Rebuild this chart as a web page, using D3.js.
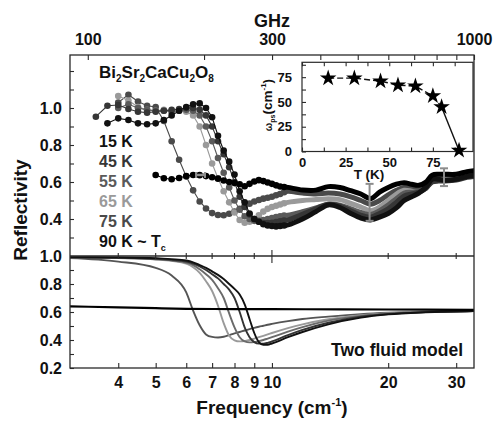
<!DOCTYPE html>
<html><head><meta charset="utf-8">
<script src="https://cdn.jsdelivr.net/npm/d3@7"></script>
<style>
body{margin:0;background:#fff;}
svg text{font-family:"Liberation Sans",Arial,sans-serif;font-weight:bold;}
</style></head><body>
<svg id="c" width="493" height="421"></svg>
<script>
// ---------- data ----------
const freqLow = [3.5,3.75,4,4.25,4.5,4.75,5,5.25,5.5,5.75,6,6.25,6.5,6.75,7,7.25,7.5,7.75,8,8.25,8.5,8.75,9,9.25,9.5,9.75,10,10.25,10.5,10.75];
const R15low = [null,.917,.944,.935,.917,.912,.917,.935,.96,.985,1.005,1.02,1.025,1.0,.95,.85,.77,.71,.64,.55,.49,.43,.40,.385,.372,.365,.362,.36,.362,.365];
const R45low = [.953,1.012,1.016,.995,.98,.975,.98,.985,.99,.995,1.0,1.0,.99,.96,.90,.82,.75,.68,.60,.52,.465,.425,.40,.385,.378,.378,.38,.384,.388,.392];
const R55low = [null,null,1.0,1.02,1.0,.99,.985,.985,.98,.985,.99,.985,.96,.90,.82,.73,.65,.57,.50,.45,.415,.40,.39,.39,.395,.40,.405,.41,.415,.418];
const R65low = [null,null,1.065,1.04,1.005,.99,.985,.99,.985,.985,.98,.96,.90,.80,.70,.62,.55,.49,.435,.395,.38,.385,.40,.42,.44,.455,.465,.472,.478,.485];
const R75low = [null,null,1.03,1.072,1.035,1.012,1.005,.93,.82,.72,.63,.555,.495,.457,.432,.422,.42,.428,.44,.455,.47,.483,.495,.503,.51,.515,.52,.528,.535,.545];
const R90low = [null,null,null,null,null,null,.638,.62,.615,.622,.632,.638,.637,.632,.626,.618,.608,.60,.594,.588,.577,.59,.603,.61,.605,.597,.59,.582,.576,.573];

const freqHigh = [11,12,13,14,15,16,17,18,19,20,21,22,23,24,25,26,27,28,30,32,33.36];
const R90high = [.571,.557,.556,.575,.57,.553,.535,.51,.545,.57,.588,.596,.588,.582,.598,.637,.642,.642,.642,.656,.661];
const R75high = [.55,.54,.535,.54,.535,.52,.50,.48,.50,.53,.555,.57,.565,.56,.58,.618,.623,.623,.628,.638,.643];
const R65high = [.49,.50,.505,.51,.505,.485,.465,.445,.465,.50,.535,.555,.55,.545,.565,.608,.618,.613,.618,.633,.638];
const R55high = [.42,.44,.46,.48,.475,.455,.435,.425,.445,.475,.51,.54,.545,.55,.565,.605,.61,.61,.615,.63,.635];
const R45high = [.395,.425,.455,.48,.47,.445,.42,.41,.43,.455,.49,.525,.535,.545,.565,.60,.605,.605,.61,.625,.63];
const R15high = [.368,.40,.44,.476,.462,.43,.405,.395,.41,.43,.46,.50,.52,.54,.57,.615,.615,.61,.615,.63,.635];

const freqModel = [3,4,5,5.5,6,6.25,6.5,6.75,7,7.25,7.5,7.75,8,8.25,8.5,8.75,9,9.25,9.5,9.75,10,11,12,14,17,20,25,33.36];
const M75 = [.985,.96,.915,.86,.74,.61,.505,.44,.422,.418,.423,.435,.447,.457,.468,.478,.487,.495,.502,.509,.515,.535,.55,.567,.585,.595,.603,.607];
const M65 = [.99,.985,.975,.965,.945,.92,.88,.82,.75,.645,.52,.43,.398,.39,.392,.40,.41,.42,.43,.44,.45,.485,.512,.548,.577,.591,.601,.607];
const M55 = [.99,.986,.977,.968,.952,.935,.905,.87,.83,.77,.70,.59,.49,.42,.39,.383,.385,.392,.40,.41,.42,.46,.492,.538,.572,.589,.60,.607];
const M45 = [.99,.987,.98,.972,.96,.945,.925,.90,.87,.84,.80,.76,.70,.60,.49,.42,.385,.374,.374,.38,.39,.435,.472,.523,.566,.586,.599,.607];
const M15 = [.992,.99,.985,.978,.968,.955,.935,.915,.89,.865,.835,.80,.765,.725,.655,.55,.45,.385,.366,.366,.375,.42,.457,.512,.56,.583,.598,.607];
const freqModel90 = [3,4,5,6,8,10,15,20,33.36];
const M90 = [.64,.633,.627,.623,.621,.62,.619,.618,.615];

const insetT = [15,30,45,55,65,75,80,90];
const insetW = [74,74,71,67,66,56,45,1];

const seriesNames = ["15 K","45 K","55 K","65 K","75 K","90 K ~ T"];
const bottomTicks = [4,5,6,7,8,9,10,20,30];
const ghzTicks = [100,200,300,400,500,600,700,800,900,1000];
const ghzLabels = [100,300,1000];
const upperTicks = [0.3,0.4,0.5,0.6,0.7,0.8,0.9,1.0,1.1,1.2];
const upperLabels = [0.4,0.6,0.8,1.0];
const lowerTicks = [0.2,0.3,0.4,0.5,0.6,0.7,0.8,0.9,1.0];
const lowerLabels = [0.2,0.4,0.6,0.8,1.0];
const insetXTicks = [0,12.5,25,37.5,50,62.5,75,87.5];
const insetXLabels = [0,25,50,75];
const insetYTicks = [0,12.5,25,37.5,50,62.5,75,87.5];
const insetYLabels = [0,25,50,75];

// ---------- layout ----------
const svg = d3.select("#c");
const L=70, Rr=474, T=55, M=256, B=368;
const x = d3.scaleLog().domain([3.0,33.36]).range([L,Rr]);
const xG = d3.scaleLog().domain([3.0*29.9792458,1000]).range([L,Rr]);
const yU = d3.scaleLinear().domain([0.2,1.2865]).range([M,T]);
const yL = d3.scaleLinear().domain([0.2,1.0]).range([B,M]);
const frameC = "#2a2a2a";
const colors = {c15:"#111",c45:"#363636",c55:"#5a5a5a",c65:"#9a9a9a",c75:"#4a4a4a",c90:"#000"};

const defs = svg.append("defs");
defs.append("clipPath").attr("id","cu").append("rect").attr("x",L).attr("y",T).attr("width",Rr-L).attr("height",M-T);
defs.append("clipPath").attr("id","cl").append("rect").attr("x",L).attr("y",M).attr("width",Rr-L).attr("height",B-M);

function styleAxis(g,size){
  g.select(".domain").remove();
  g.selectAll(".tick line").attr("stroke",frameC).attr("stroke-width",1.1);
  g.selectAll("text").attr("font-size",size).attr("fill","#111")
   .attr("font-family","'Liberation Sans',Arial,sans-serif").attr("font-weight","bold");
}

// ---------- upper panel data ----------
const gU = svg.append("g").attr("clip-path","url(#cu)");
const lowSeries = [
  {v:R75low,h:R75high,c:colors.c75},
  {v:R65low,h:R65high,c:colors.c65},
  {v:R55low,h:R55high,c:colors.c55},
  {v:R45low,h:R45high,c:colors.c45},
  {v:R15low,h:R15high,c:colors.c15},
  {v:R90low,h:R90high,c:colors.c90}
];
const lineU = d3.line().x(d=>x(d[0])).y(d=>yU(d[1]));
// thick high-frequency parts
lowSeries.forEach(s=>{
  const last = [freqLow[freqLow.length-1], s.v[s.v.length-1]];
  const pts = [last].concat(freqHigh.map((f,i)=>[f,s.h[i]]));
  gU.append("path").attr("d",lineU.curve(d3.curveCatmullRom)(pts))
    .attr("fill","none").attr("stroke",s.c).attr("stroke-width",5)
    .attr("stroke-linejoin","round").attr("stroke-linecap","round");
});
// dotted low-frequency parts
lowSeries.forEach(s=>{
  const pts = freqLow.map((f,i)=>[f,s.v[i]]).filter(d=>d[1]!==null);
  gU.append("path").attr("d",d3.line().x(d=>x(d[0])).y(d=>yU(d[1]))(pts))
    .attr("fill","none").attr("stroke",s.c).attr("stroke-width",1.1);
  gU.selectAll(null).data(pts).enter().append("circle")
    .attr("cx",d=>x(d[0])).attr("cy",d=>yU(d[1])).attr("r",3.3).attr("fill",s.c);
});
// error bars
const errC = "#8c8c8c";
const vBars = [{f:17.9,lo:0.39,hi:0.59},{f:27.9,lo:0.578,hi:0.674}];
vBars.forEach(e=>{
  const xx = x(e.f);
  gU.append("line").attr("x1",xx).attr("x2",xx).attr("y1",yU(e.lo)).attr("y2",yU(e.hi)).attr("stroke",errC).attr("stroke-width",2);
  [e.lo,e.hi].forEach(v=>gU.append("line").attr("x1",xx-4).attr("x2",xx+4).attr("y1",yU(v)).attr("y2",yU(v)).attr("stroke",errC).attr("stroke-width",2));
});
const hBar = {r:0.638,flo:6.36,fhi:6.71};
gU.append("line").attr("x1",x(hBar.flo)).attr("x2",x(hBar.fhi)).attr("y1",yU(hBar.r)).attr("y2",yU(hBar.r)).attr("stroke",errC).attr("stroke-width",2.5);
[hBar.flo,hBar.fhi].forEach(f=>gU.append("line").attr("x1",x(f)).attr("x2",x(f)).attr("y1",yU(hBar.r)-3).attr("y2",yU(hBar.r)+3).attr("stroke",errC).attr("stroke-width",2));

// ---------- lower panel model ----------
const gL = svg.append("g").attr("clip-path","url(#cl)");
const lineL = d3.line().x(d=>x(d[0])).y(d=>yL(d[1])).curve(d3.curveMonotoneX);
[{v:M75,c:"#555"},{v:M65,c:"#9a9a9a"},{v:M55,c:"#6a6a6a"},{v:M45,c:"#333"},{v:M15,c:"#111"}].forEach(s=>{
  gL.append("path").attr("d",lineL(freqModel.map((f,i)=>[f,s.v[i]])))
    .attr("fill","none").attr("stroke",s.c).attr("stroke-width",1.9);
});
gL.append("path").attr("d",lineL(freqModel90.map((f,i)=>[f,M90[i]])))
  .attr("fill","none").attr("stroke","#000").attr("stroke-width",2.2);

// ---------- axes ----------
const aUL = svg.append("g").attr("transform",`translate(${L},0)`)
  .call(d3.axisLeft(yU).tickValues(upperTicks).tickSize(-4).tickPadding(8)
  .tickFormat(d=>upperLabels.includes(d)?d.toFixed(1):""));
styleAxis(aUL,16);
const aLL = svg.append("g").attr("transform",`translate(${L},0)`)
  .call(d3.axisLeft(yL).tickValues(lowerTicks).tickSize(-4).tickPadding(8)
  .tickFormat(d=>lowerLabels.includes(d)?d.toFixed(1):""));
styleAxis(aLL,16);
const aB = svg.append("g").attr("transform",`translate(0,${B})`)
  .call(d3.axisBottom(x).tickValues(bottomTicks).tickSize(-5).tickPadding(9).tickFormat(d3.format("d")));
styleAxis(aB,16);
const aT = svg.append("g").attr("transform",`translate(0,${T})`)
  .call(d3.axisTop(xG).tickValues(ghzTicks).tickSize(-5).tickPadding(10)
  .tickFormat(d=>ghzLabels.includes(d)?String(d):""));
styleAxis(aT,16);
// ticks crossing the middle line
const aM = svg.append("g");
bottomTicks.forEach(t=>{
  const big = t===10;
  aM.append("line").attr("x1",x(t)).attr("x2",x(t)).attr("y1",M-(big?6:3)).attr("y2",M+(big?7:3))
    .attr("stroke",frameC).attr("stroke-width",1.1);
});
// frame
svg.append("rect").attr("x",L).attr("y",T).attr("width",Rr-L).attr("height",B-T)
  .attr("fill","none").attr("stroke",frameC).attr("stroke-width",1.3);
svg.append("line").attr("x1",L).attr("x2",Rr).attr("y1",M).attr("y2",M).attr("stroke",frameC).attr("stroke-width",1.3);

// titles
svg.append("text").attr("x",272).attr("y",27).attr("text-anchor","middle").attr("font-size",18).attr("fill","#111").text("GHz");
const ft = svg.append("text").attr("x",272).attr("y",414).attr("text-anchor","middle").attr("font-size",19).attr("fill","#111");
ft.append("tspan").text("Frequency (cm");
ft.append("tspan").text("-1").attr("font-size",11).attr("dy",-8);
ft.append("tspan").text(")").attr("dy",8);
svg.append("text").attr("transform","translate(27,210) rotate(-90)").attr("text-anchor","middle")
  .attr("font-size",19).attr("fill","#111").text("Reflectivity");

// legend
const fm = svg.append("text").attr("x",99).attr("y",78).attr("font-size",17).attr("fill","#111");
[["Bi",0],["2",1],["Sr",0],["2",1],["CaCu",0],["2",1],["O",0],["8",1]].forEach(p=>{
  const ts = fm.append("tspan").text(p[0]);
  if(p[1]){ts.attr("font-size",10).attr("dy",4);} else {ts.attr("dy",fm.node().childNodes.length>1?-4:0);}
});
const legCols = [colors.c15,colors.c45,colors.c55,colors.c65,colors.c75,"#111"];
seriesNames.forEach((n,i)=>{
  const t = svg.append("text").attr("x",99).attr("y",146.5+i*20).attr("font-size",16).attr("fill",legCols[i]).text(n);
  if(i===5){t.append("tspan").text("c").attr("font-size",9).attr("dy",4);}
});
svg.append("text").attr("x",463).attr("y",356).attr("text-anchor","end").attr("font-size",17.5).attr("fill","#111").text("Two fluid model");

// ---------- inset ----------
const iL=302, iR=473, iT=62.3, iB=151.5;
const xi = d3.scaleLinear().domain([0,98]).range([iL,iR]);
const yi = d3.scaleLinear().domain([0,90]).range([iB,iT]);
svg.append("rect").attr("x",iL).attr("y",iT).attr("width",iR-iL).attr("height",iB-iT)
  .attr("fill","#fff").attr("stroke",frameC).attr("stroke-width",1.2);
const aiB = svg.append("g").attr("transform",`translate(0,${iB})`)
  .call(d3.axisBottom(xi).tickValues(insetXTicks).tickSize(-4).tickPadding(6)
  .tickFormat(d=>insetXLabels.includes(d)?String(d):""));
styleAxis(aiB,13);
const aiT = svg.append("g").attr("transform",`translate(0,${iT})`)
  .call(d3.axisTop(xi).tickValues(insetXTicks).tickSize(-4).tickFormat(""));
styleAxis(aiT,13);
const aiL = svg.append("g").attr("transform",`translate(${iL},0)`)
  .call(d3.axisLeft(yi).tickValues(insetYTicks).tickSize(-4).tickPadding(10)
  .tickFormat(d=>insetYLabels.includes(d)?String(d):""));
styleAxis(aiL,13);
const gi = svg.append("g");
const ptsI = insetT.map((t,i)=>[t,insetW[i]]);
gi.append("path").attr("d",d3.line().x(d=>xi(d[0])).y(d=>yi(d[1]))(ptsI.slice(0,7)))
  .attr("fill","none").attr("stroke","#111").attr("stroke-width",1.4).attr("stroke-dasharray","6,3");
gi.append("path").attr("d",d3.line().x(d=>xi(d[0])).y(d=>yi(d[1]))(ptsI.slice(6)))
  .attr("fill","none").attr("stroke","#111").attr("stroke-width",1.4);
gi.selectAll(null).data(ptsI).enter().append("path")
  .attr("d",d3.symbol(d3.symbolStar,85)())
  .attr("transform",d=>`translate(${xi(d[0])},${yi(d[1])})`).attr("fill","#000");
svg.append("text").attr("x",369).attr("y",179).attr("text-anchor","middle").attr("font-size",13.5).attr("fill","#111").text("T (K)");
const yl = svg.append("text").attr("transform","translate(272,105) rotate(-90)").attr("text-anchor","middle").attr("fill","#111");
yl.append("tspan").text("ω").attr("font-size",10);
yl.append("tspan").text("ps").attr("font-size",7).attr("dy",3);
yl.append("tspan").text("(cm").attr("font-size",13.5).attr("dy",-3);
yl.append("tspan").text("-1").attr("font-size",8).attr("dy",-6);
yl.append("tspan").text(")").attr("font-size",13.5).attr("dy",6);
</script>
</body></html>
